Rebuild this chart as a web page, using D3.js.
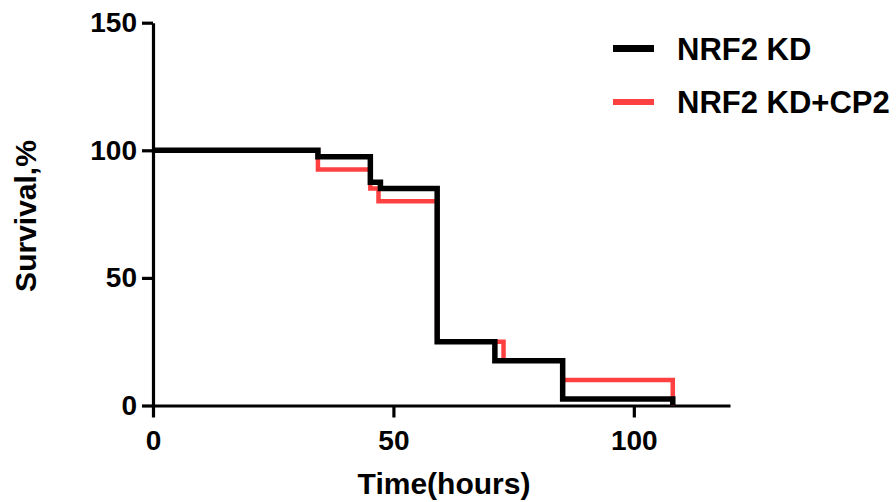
<!DOCTYPE html>
<html>
<head>
<meta charset="utf-8">
<script src="https://cdn.jsdelivr.net/npm/d3@7"></script>
<style>
  html, body { margin: 0; padding: 0; background: #fff; }
  svg { display: block; }
  text { font-family: "Liberation Sans", Arial, sans-serif; font-weight: bold; fill: #000; }
</style>
</head>
<body>
<svg id="chart" width="896" height="502"></svg>
<script>
// ---- data ----
const seriesNames = ["NRF2 KD", "NRF2 KD+CP2"];
const kdTimes     = [0, 34.3, 45.2, 47.3, 59.1, 71.1, 85.2, 108.1];
const kdSurvival  = [100, 97.5, 87.5, 85, 25, 17.5, 2.5, 0];
const cpTimes     = [0, 34.3, 45.2, 46.9, 59.1, 72.9, 85.2, 108.1];
const cpSurvival  = [100, 92.5, 85, 80, 25, 17.5, 10, 0];
const xTicks = [0, 50, 100];
const yTicks = [0, 50, 100, 150];
const xLabel = "Time(hours)";
const yLabel = "Survival,%";

// ---- layout ----
const svg = d3.select("#chart");
const x = d3.scaleLinear().domain([0, 120]).range([153, 730]);
const y = d3.scaleLinear().domain([0, 150]).range([405.5, 22.7]);

const colors = ["#000000", "#ff4040"];
const widths = [5.5, 4.5];

const line = d3.line()
  .x(d => x(d[0]))
  .y(d => y(d[1]))
  .curve(d3.curveStepAfter);

const kd = kdTimes.map((t, i) => [t, kdSurvival[i]]);
const cp = cpTimes.map((t, i) => [t, cpSurvival[i]]);

// axes
const xAxis = d3.axisBottom(x).tickValues(xTicks).tickSize(12).tickSizeOuter(0).tickPadding(12);
const yAxis = d3.axisLeft(y).tickValues(yTicks).tickSize(11).tickSizeOuter(0).tickPadding(5);

const gx = svg.append("g").attr("transform", `translate(0,${y(0)})`).call(xAxis);
const gy = svg.append("g").attr("transform", `translate(${x(0)},0)`).call(yAxis);

[gx, gy].forEach(g => {
  g.select(".domain").attr("stroke", "#000").attr("stroke-width", 3.2);
  g.selectAll(".tick line").attr("stroke", "#000").attr("stroke-width", 3.2);
  g.selectAll(".tick text")
    .style("font-family", '"Liberation Sans", Arial, sans-serif')
    .style("font-weight", "bold")
    .style("font-size", "28px")
    .attr("fill", "#000");
});
gx.selectAll(".tick text").attr("dy", "0.72em");

// series (red under black)
svg.append("path").datum(cp)
  .attr("d", line).attr("fill", "none")
  .attr("stroke", colors[1]).attr("stroke-width", widths[1]);
svg.append("path").datum(kd)
  .attr("d", line).attr("fill", "none")
  .attr("stroke", colors[0]).attr("stroke-width", widths[0]);

// axis titles
svg.append("text")
  .attr("x", 444).attr("y", 494)
  .attr("text-anchor", "middle")
  .style("font-size", "30px")
  .text(xLabel);

svg.append("text")
  .attr("transform", "translate(36,216) rotate(-90)")
  .attr("text-anchor", "middle")
  .style("font-size", "30px")
  .text(yLabel);

// legend
const legY = [48.5, 102];
const legW = [7, 6];
seriesNames.forEach((name, i) => {
  svg.append("line")
    .attr("x1", 613).attr("x2", 654)
    .attr("y1", legY[i]).attr("y2", legY[i])
    .attr("stroke", colors[i]).attr("stroke-width", legW[i]);
  svg.append("text")
    .attr("x", 677).attr("y", legY[i] + 11)
    .style("font-size", "31px")
    .text(name);
});
</script>
</body>
</html>
